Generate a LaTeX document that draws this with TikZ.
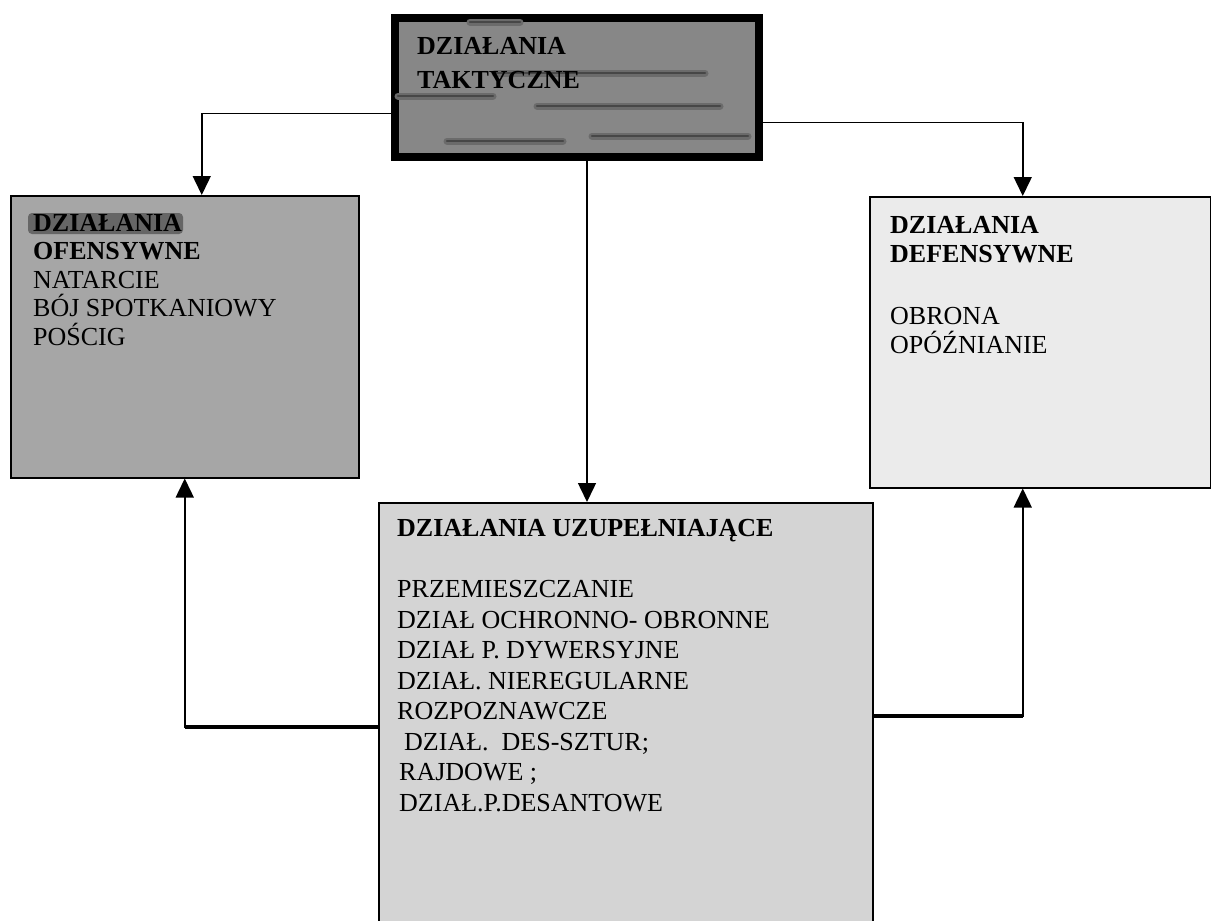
\documentclass[tikz,border=0pt]{standalone}
\usepackage{fontspec}
\setmainfont{Liberation Serif}
\usepackage{tikz}
\usetikzlibrary{arrows.meta,positioning}

\begin{document}
\begin{tikzpicture}[x=1pt, y=1pt,
  box/.style={draw, line width=1.5pt, inner sep=0pt, anchor=north west},
  txt/.style={inner sep=0pt, align=left},
  arr/.style={-{Triangle[width=18pt,length=19pt]}, line width=1.5pt},
  smear/.style={line width=7pt, black!58, line cap=round},
  smearc/.style={line width=2.5pt, black!72, line cap=round}]
\useasboundingbox (0,0) rectangle (1211,-921);
\node[box, fill=black!47, line width=8pt, minimum width=364pt, minimum height=139pt] (tak) at (391,-14) {};
\node[box, fill=black!35, minimum width=348pt, minimum height=282pt] (ofe) at (10,-195) {};
\node[box, fill=black!8, minimum width=341pt, minimum height=291pt] (def) at (869,-196) {};
\node[box, fill=black!17, minimum width=494pt, minimum height=430pt] (uzu) at (378,-502) {};
\foreach \xa/\xb/\y in {470/520/22,495/705/73,398/493/96,537/720/106,447/563/141,592/748/136}{
  \draw[smear] (\xa,-\y) -- (\xb,-\y);
  \draw[smearc] (\xa,-\y) -- (\xb,-\y);}
\fill[black!60, rounded corners=4pt] (28,-213) rectangle (183,-234);
\node[txt, font=\fontsize{26}{30}\selectfont\bfseries, below right=23pt and 26pt of tak.north west] (takt) {DZIAŁANIA\\[4pt]TAKTYCZNE};
\node[txt, font=\fontsize{26}{28.5}\selectfont, below right=19pt and 23pt of ofe.north west] (ofet) {\textbf{DZIAŁANIA}\\\textbf{OFENSYWNE}\\NATARCIE\\BÓJ SPOTKANIOWY\\POŚCIG};
\node[txt, font=\fontsize{26}{29}\selectfont, below right=20pt and 21pt of def.north west] (deft) {\textbf{DZIAŁANIA}\\\textbf{DEFENSYWNE}\\[33pt]OBRONA\\OPÓŹNIANIE};
\node[txt, font=\fontsize{26}{30.5}\selectfont, below right=17pt and 19pt of uzu.north west] (uzut) {\textbf{DZIAŁANIA UZUPEŁNIAJĄCE}\\[31pt]PRZEMIESZCZANIE\\DZIAŁ OCHRONNO- OBRONNE\\DZIAŁ P. DYWERSYJNE\\DZIAŁ. NIEREGULARNE\\ROZPOZNAWCZE\\\hspace*{7pt}DZIAŁ.\ \ DES-SZTUR;\\\hspace*{2pt}RAJDOWE ;\\\hspace*{2pt}DZIAŁ.P.DESANTOWE};
\draw[arr] ([yshift=-26pt]tak.west) -| ([xshift=17pt]ofe.north);
\draw[arr] ([yshift=-35pt]tak.east) -| ([xshift=-17.5pt]def.north);
\draw[arr] ([xshift=10pt]tak.south) -- ([xshift=10pt]tak.south |- uzu.north);
\draw[arr] ([yshift=-9pt]uzu.west) -| (ofe.south);
\draw[arr] ([yshift=2pt]uzu.east) -| ([xshift=-17.5pt]def.south);
\draw[line width=3.5pt] ([yshift=-9pt]uzu.west) -- ([yshift=-9pt]uzu.west -| ofe.south);
\draw[line width=3.5pt] ([yshift=2pt]uzu.east) -- ([yshift=2pt,xshift=-17.5pt]uzu.east -| def.south);
\end{tikzpicture}
\end{document}
